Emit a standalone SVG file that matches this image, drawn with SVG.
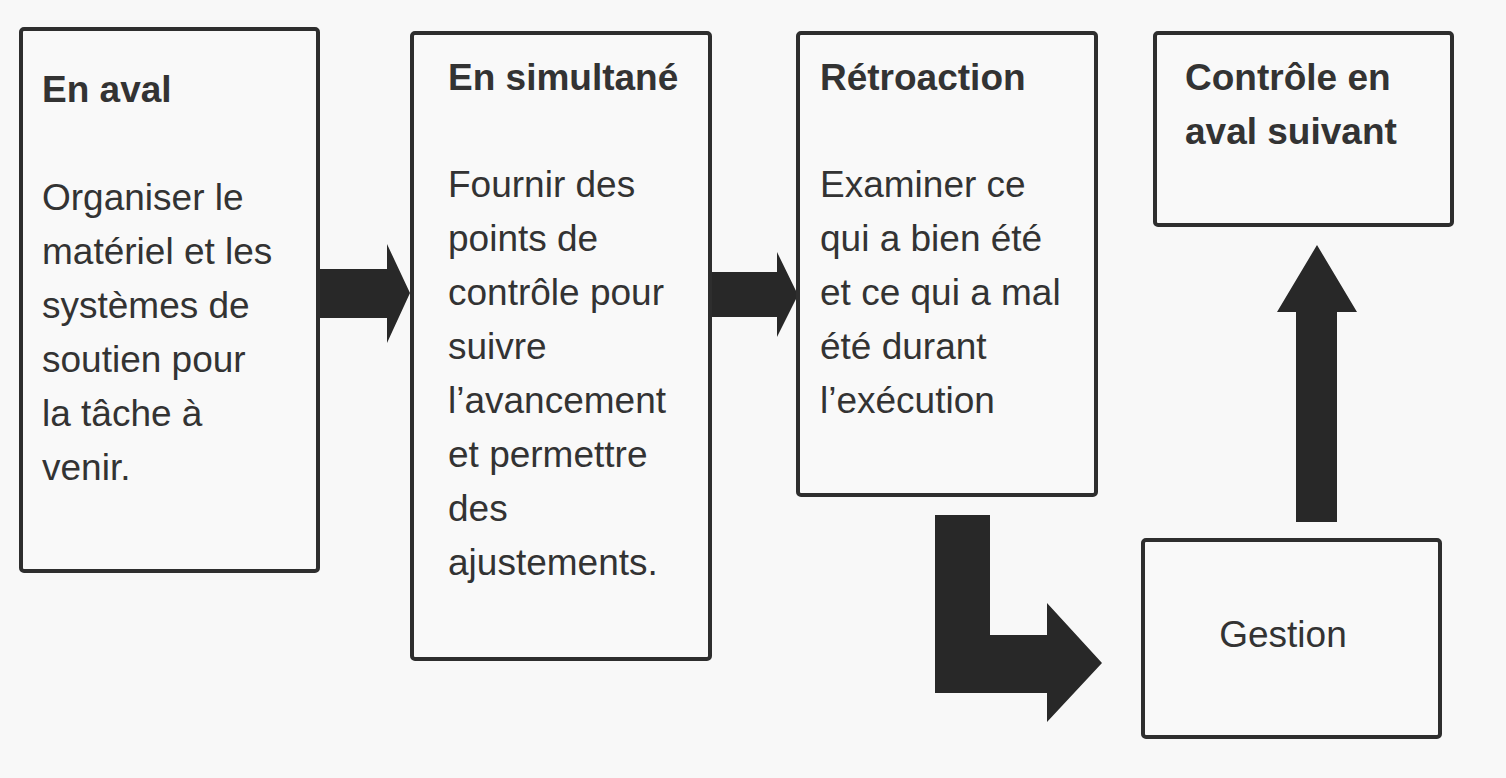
<svg xmlns="http://www.w3.org/2000/svg" width="1506" height="778" viewBox="0 0 1506 778">
<style>
.box{fill:#f9f9f9;stroke:#2e2e2e;stroke-width:4}
.t{font-family:"Liberation Sans",Arial,sans-serif;font-size:37px;fill:#333}
.b{font-weight:bold}
.arr{fill:#282828}
</style>
<rect width="1506" height="778" fill="#f8f8f8"/>
<g id="connectors">
<polygon class="arr" points="318,269 387,269 387,244 410,293 387,343 387,318 318,318"/>
<polygon class="arr" points="710,272 777,272 777,252 798,295 777,337 777,317 710,317"/>
<polygon class="arr" points="935,515 990,515 990,635 1047,635 1047,603 1102,663 1047,722 1047,693 935,693"/>
<polygon class="arr" points="1296,522 1296,312 1277,312 1317,245 1357,312 1337,312 1337,522"/>
</g>
<g id="node-en-aval">
<rect class="box" x="21" y="29" width="297" height="542" rx="3"/>
<text class="t b" x="42" y="102">En aval</text>
<text class="t" x="42" y="210">Organiser le</text>
<text class="t" x="42" y="264">matériel et les</text>
<text class="t" x="42" y="318">systèmes de</text>
<text class="t" x="42" y="372">soutien pour</text>
<text class="t" x="42" y="426">la tâche à</text>
<text class="t" x="42" y="480">venir.</text>
</g>
<g id="node-en-simultane">
<rect class="box" x="412" y="33" width="298" height="626" rx="3"/>
<text class="t b" x="448" y="90">En simultané</text>
<text class="t" x="448" y="197">Fournir des</text>
<text class="t" x="448" y="251">points de</text>
<text class="t" x="448" y="305">contrôle pour</text>
<text class="t" x="448" y="359">suivre</text>
<text class="t" x="448" y="413">l’avancement</text>
<text class="t" x="448" y="467">et permettre</text>
<text class="t" x="448" y="521">des</text>
<text class="t" x="448" y="575">ajustements.</text>
</g>
<g id="node-retroaction">
<rect class="box" x="798" y="33" width="298" height="462" rx="3"/>
<text class="t b" x="820" y="90">Rétroaction</text>
<text class="t" x="820" y="197">Examiner ce</text>
<text class="t" x="820" y="251">qui a bien été</text>
<text class="t" x="820" y="305">et ce qui a mal</text>
<text class="t" x="820" y="359">été durant</text>
<text class="t" x="820" y="413">l’exécution</text>
</g>
<g id="node-controle">
<rect class="box" x="1155" y="33" width="297" height="192" rx="3"/>
<text class="t b" x="1185" y="90">Contrôle en</text>
<text class="t b" x="1185" y="144">aval suivant</text>
</g>
<g id="node-gestion">
<rect class="box" x="1143" y="540" width="297" height="197" rx="3"/>
<text class="t" x="1283" y="647" text-anchor="middle">Gestion</text>
</g>
</svg>
